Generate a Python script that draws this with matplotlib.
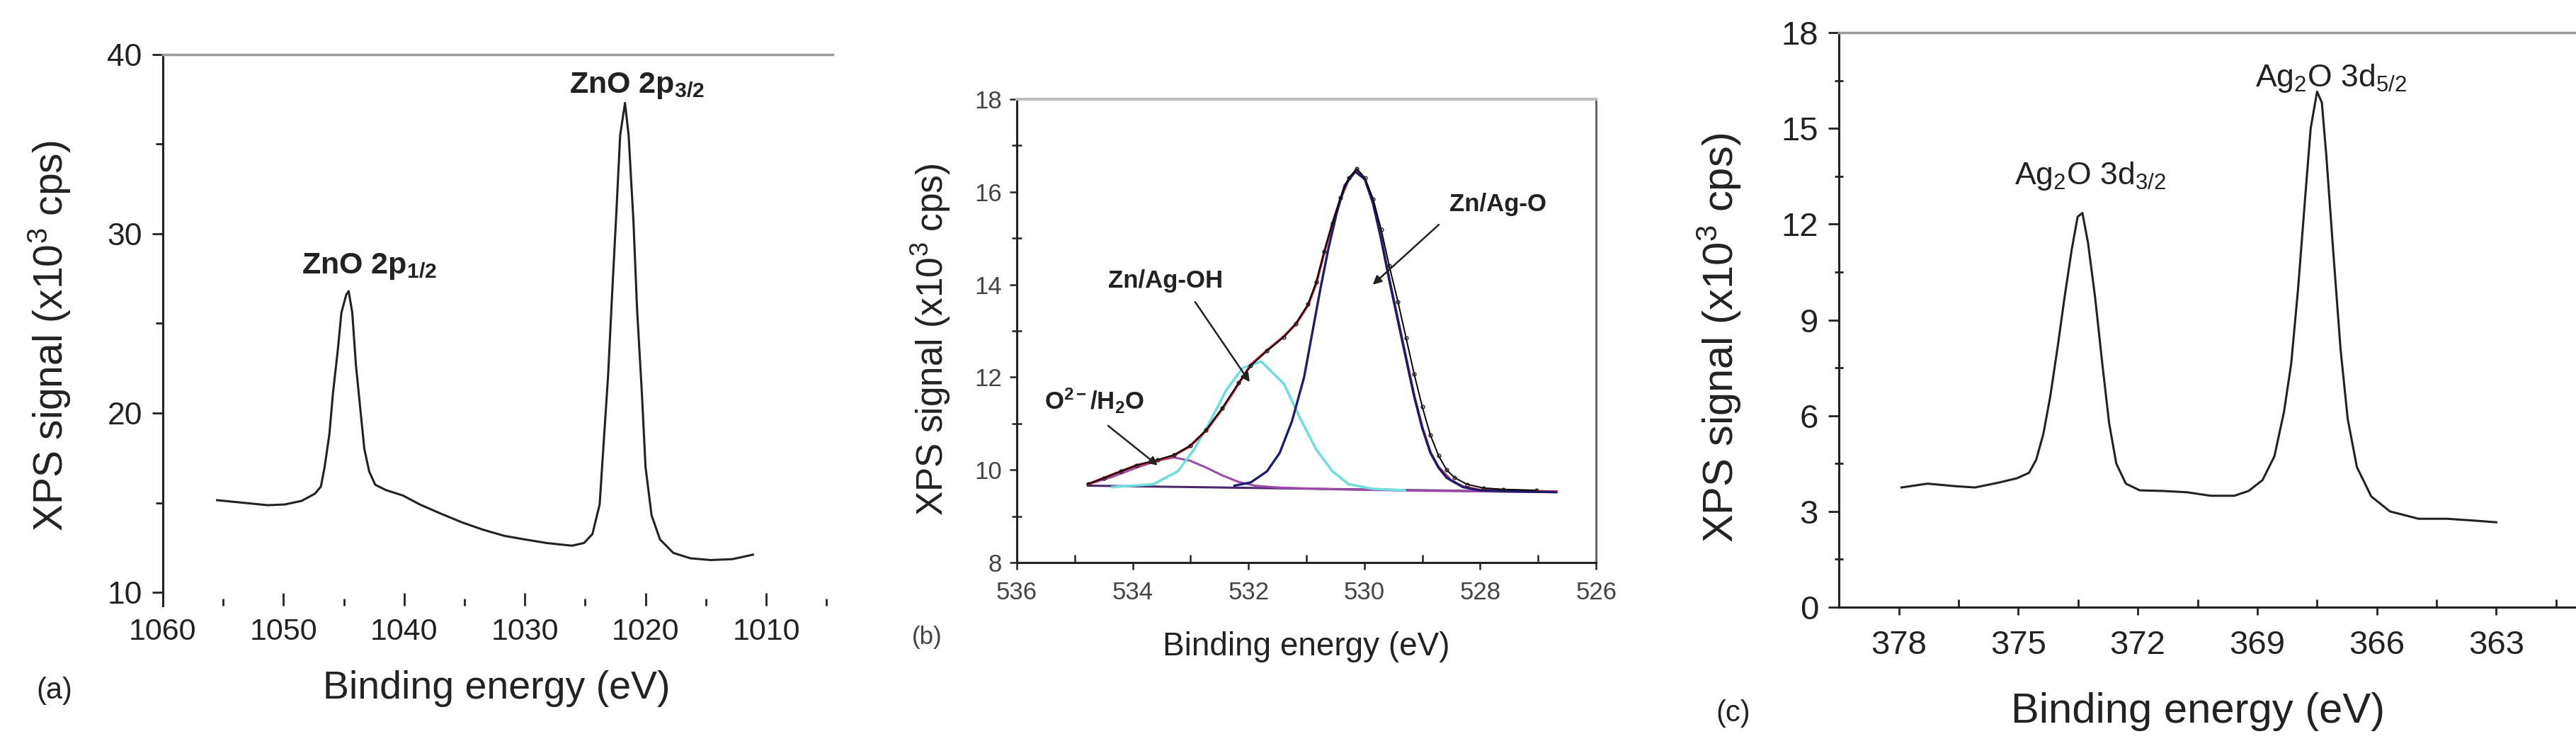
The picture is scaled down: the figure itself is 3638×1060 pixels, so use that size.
import matplotlib
matplotlib.use('Agg')
import matplotlib.pyplot as plt
from matplotlib.ticker import MultipleLocator, FixedLocator

plt.rcParams['font.family'] = ['Liberation Sans', 'DejaVu Sans']
plt.rcParams['mathtext.fontset'] = 'custom'
plt.rcParams['mathtext.rm'] = 'Liberation Sans'
plt.rcParams['mathtext.it'] = 'Liberation Sans:italic'
plt.rcParams['mathtext.bf'] = 'Liberation Sans:bold'
plt.rcParams['mathtext.default'] = 'regular'

# (a) Zn 2p region
zn_energy = [1055.5, 1053.4, 1051.3, 1049.9, 1048.5, 1047.4, 1046.9, 1046.6, 1046.2, 1045.9,
             1045.5, 1045.2, 1044.8, 1044.6, 1044.3, 1044.0, 1043.6, 1043.3, 1042.9, 1042.4,
             1041.5, 1040.1, 1038.7, 1037.0, 1035.2, 1033.5, 1031.7, 1030.0, 1028.2, 1026.1,
             1025.1, 1024.4, 1023.8, 1023.5, 1023.1, 1022.8, 1022.4, 1022.1, 1021.7, 1021.4,
             1021.0, 1020.7, 1020.3, 1020.0, 1019.5, 1018.8, 1017.7, 1016.3, 1014.6, 1012.8,
             1011.1]
zn_signal = [15.14, 15.0, 14.86, 14.9, 15.1, 15.5, 15.9, 16.95, 18.8, 21.1,
             23.5, 25.6, 26.6, 26.8, 25.6, 22.7, 20.0, 18.0, 16.75, 16.0,
             15.7, 15.4, 14.9, 14.4, 13.9, 13.5, 13.15, 12.95, 12.75, 12.6,
             12.75, 13.25, 14.9, 18.0, 22.1, 26.2, 31.4, 35.5, 37.3, 35.5,
             30.7, 25.8, 21.1, 17.0, 14.3, 12.95, 12.2, 11.9, 11.8, 11.85,
             12.1]
zn_yticks = [10, 20, 30, 40]
zn_peaks = ['ZnO 2p$_{1/2}$', 'ZnO 2p$_{3/2}$']
zn_peak_pos = [(1042.9, 28.2), (1020.7, 38.25)]

# (b) O 1s region, measured data and fitted components
o_energy = [534.77, 534.5, 534.2, 533.93, 533.57, 533.29, 533.01, 532.73, 532.45, 532.17,
            531.96, 531.68, 531.39, 531.18, 530.97, 530.83, 530.69, 530.55, 530.41, 530.27,
            530.13, 529.99, 529.85, 529.71, 529.57, 529.42, 529.28, 529.14, 529.0, 528.86,
            528.72, 528.58, 528.44, 528.23, 527.95, 527.6, 527.03]
o_signal = [9.70, 9.82, 9.97, 10.10, 10.22, 10.32, 10.52, 10.86, 11.34, 11.88,
            12.25, 12.57, 12.87, 13.16, 13.58, 14.05, 14.72, 15.33, 15.88, 16.30,
            16.50, 16.30, 15.85, 15.19, 14.40, 13.63, 12.85, 12.07, 11.36, 10.75,
            10.31, 10.00, 9.83, 9.69, 9.61, 9.58, 9.56]

o_fit_energy = [534.77, 534.35, 533.93, 533.57, 533.29, 533.01, 532.73, 532.45, 532.17, 531.96,
                531.68, 531.39, 531.18, 530.97, 530.83, 530.69, 530.55, 530.41, 530.27, 530.13,
                529.99, 529.85, 529.71, 529.57, 529.42, 529.28, 529.14, 529.0, 528.86, 528.72,
                528.51, 528.30, 528.02, 527.60, 527.03, 526.68]
o_fit = [9.69, 9.90, 10.10, 10.20, 10.31, 10.51, 10.85, 11.32, 11.86, 12.27,
         12.58, 12.88, 13.15, 13.56, 14.03, 14.71, 15.32, 15.86, 16.27, 16.47,
         16.27, 15.78, 15.00, 14.12, 13.24, 12.42, 11.60, 10.92, 10.38, 10.06,
         9.78, 9.64, 9.57, 9.55, 9.54, 9.53]

o_zno_energy = [532.24, 531.96, 531.68, 531.46, 531.25, 531.04, 530.90, 530.76, 530.62, 530.48,
                530.34, 530.16, 529.99, 529.85, 529.71, 529.57, 529.42, 529.28, 529.14, 529.00,
                528.86, 528.72, 528.58, 528.30, 528.02, 527.60, 526.70]
o_zno = [9.66, 9.73, 9.97, 10.37, 11.05, 12.00, 12.95, 13.90, 14.78, 15.53,
         16.14, 16.44, 16.27, 15.75, 14.98, 14.10, 13.22, 12.40, 11.59, 10.90,
         10.37, 10.05, 9.83, 9.63, 9.56, 9.54, 9.52]

o_oh_energy = [534.35, 533.64, 533.22, 532.94, 532.66, 532.38, 532.10, 531.78, 531.39, 531.11,
               530.83, 530.55, 530.27, 529.85, 529.30]
o_oh = [9.63, 9.69, 9.97, 10.44, 11.05, 11.73, 12.20, 12.34, 11.86, 11.12,
        10.44, 9.97, 9.69, 9.59, 9.56]

o_h2o_energy = [534.77, 534.35, 533.93, 533.57, 533.29, 533.01, 532.73, 532.45, 532.17, 531.89,
                531.50, 530.50, 529.00, 527.50, 526.68]
o_h2o = [9.69, 9.85, 10.05, 10.20, 10.27, 10.20, 10.05, 9.88, 9.74, 9.66,
         9.62, 9.58, 9.55, 9.53, 9.52]

o_base_energy = [534.77, 526.68]
o_base = [9.66, 9.52]

o_labels = ['Zn/Ag-O', 'Zn/Ag-OH', 'O$^{2-}$/H$_2$O']
o_label_pos = [(527.70, 15.73), (533.43, 14.08), (534.66, 11.49)]
o_arrow_from = [(528.69, 15.32), (532.94, 13.66), (534.45, 10.98)]
o_arrow_to = [(529.88, 13.97), (531.96, 11.86), (533.54, 10.07)]

# (c) Ag 3d region
ag_energy = [377.93, 377.28, 376.57, 376.09, 375.5, 375.03, 374.73, 374.55, 374.37, 374.2,
             374.02, 373.84, 373.66, 373.51, 373.39, 373.25, 373.07, 372.89, 372.72, 372.54,
             372.3, 371.95, 371.35, 370.76, 370.17, 369.58, 369.22, 368.87, 368.57, 368.33,
             368.15, 367.98, 367.8, 367.66, 367.5, 367.38, 367.27, 367.09, 366.91, 366.73,
             366.5, 366.14, 365.67, 364.95, 364.24, 363.53, 363.0]
ag_signal = [3.75, 3.87, 3.79, 3.75, 3.90, 4.04, 4.21, 4.62, 5.43, 6.58,
             8.08, 9.69, 11.19, 12.23, 12.35, 11.42, 9.69, 7.62, 5.77, 4.50,
             3.87, 3.66, 3.64, 3.60, 3.49, 3.49, 3.64, 3.98, 4.73, 6.12,
             7.62, 9.92, 12.81, 15.0, 16.15, 15.81, 14.19, 11.08, 8.08, 5.89,
             4.39, 3.47, 3.0, 2.77, 2.77, 2.71, 2.66]
ag_peaks = ['Ag$_2$O 3d$_{3/2}$', 'Ag$_2$O 3d$_{5/2}$']
ag_peak_pos = [(373.19, 13.5), (367.15, 16.56)]

ylab = 'XPS signal (x10$^3$ cps)'
xlab = 'Binding energy (eV)'
ink = '#222222'

fig = plt.figure(figsize=(36.38, 10.6), dpi=100)

#----- panel (a)
ax = fig.add_axes([0.0632, 0.1934, 0.26, 0.734])
ax.plot(zn_energy, zn_signal, color=ink, lw=2.2)
ax.set_xlim(1060, 1004.5)
ax.set_ylim(9.25, 40)
ax.xaxis.set_major_locator(MultipleLocator(10))
ax.xaxis.set_minor_locator(MultipleLocator(5))
ax.yaxis.set_major_locator(FixedLocator(zn_yticks))
ax.yaxis.set_minor_locator(MultipleLocator(5))
ax.spines['right'].set_visible(False)
ax.spines['bottom'].set_visible(False)
ax.spines['left'].set_color(ink)
ax.spines['left'].set_linewidth(2.2)
ax.spines['top'].set_color('#9a9a9a')
ax.spines['top'].set_linewidth(2.5)
ax.tick_params(axis='y', which='both', direction='out', width=2, color=ink,
               labelsize=32, labelcolor=ink, pad=10)
ax.tick_params(axis='y', which='major', length=11)
ax.tick_params(axis='y', which='minor', length=7)
ax.tick_params(axis='x', which='both', direction='in', width=2, color=ink,
               labelsize=31, labelcolor=ink, pad=12)
ax.tick_params(axis='x', which='major', length=13)
ax.tick_params(axis='x', which='minor', length=7)
for lab, (x, y) in zip(zn_peaks, zn_peak_pos):
    ax.text(x, y, lab, fontsize=31, fontweight='bold', color=ink, ha='center', va='center')
ax.set_ylabel(ylab, fontsize=41, color=ink)
ax.yaxis.set_label_coords(-0.134, 0.49)
ax.set_xlabel(xlab, fontsize=40, color=ink)
ax.xaxis.set_label_coords(0.498, -0.117)
fig.text(0.0212, 0.080, '(a)', fontsize=30, color=ink, ha='center', va='center')

#----- panel (b)
ax = fig.add_axes([0.3947, 0.2509, 0.2249, 0.6170])
ax.plot(o_base_energy, o_base, color='#4a2a6a', lw=2.2)
ax.plot(o_h2o_energy, o_h2o, color='#a04aa8', lw=2.2)
ax.plot(o_oh_energy, o_oh, color='#70dede', lw=2.6)
ax.plot(o_fit_energy, o_fit, color='#d02a3a', lw=2.6)
ax.plot(o_zno_energy, o_zno, color='#1c1c70', lw=2.4)
ax.plot(o_energy, o_signal, color='black', lw=1.4, marker='o', ms=3.5,
        mfc='none', mec='#222222', mew=1.0)
for lab, pos, p0, p1 in zip(o_labels, o_label_pos, o_arrow_from, o_arrow_to):
    ax.text(pos[0], pos[1], lab, fontsize=25, fontweight='bold', color=ink,
            ha='center', va='center')
    ax.annotate('', xy=p1, xytext=p0,
                arrowprops=dict(arrowstyle='-|>', color=ink, lw=1.8, mutation_scale=18))
ax.set_xlim(536, 526)
ax.set_ylim(8, 18)
ax.xaxis.set_major_locator(MultipleLocator(2))
ax.xaxis.set_minor_locator(MultipleLocator(1))
ax.yaxis.set_major_locator(MultipleLocator(2))
ax.yaxis.set_minor_locator(MultipleLocator(1))
for side in ['left', 'bottom']:
    ax.spines[side].set_color(ink)
    ax.spines[side].set_linewidth(2.2)
ax.spines['right'].set_color('#666666')
ax.spines['right'].set_linewidth(2.2)
ax.spines['top'].set_color('#bdbdbd')
ax.spines['top'].set_linewidth(3)
ax.tick_params(which='both', width=1.8, color=ink, labelsize=25, labelcolor='#444444')
ax.tick_params(which='major', direction='out', length=7)
ax.tick_params(axis='y', which='major', pad=8)
ax.tick_params(axis='x', which='major', pad=12)
ax.tick_params(axis='y', which='minor', direction='inout', length=10)
ax.tick_params(axis='x', which='minor', direction='in', length=8)
ax.set_ylabel(ylab, fontsize=37, color=ink)
ax.yaxis.set_label_coords(-0.111, 0.481)
ax.set_xlabel(xlab, fontsize=33, color=ink)
ax.xaxis.set_label_coords(0.5, -0.148)
fig.text(0.3598, 0.151, '(b)', fontsize=25, color='#444444', ha='center', va='center')

#----- panel (c)
ax = fig.add_axes([0.7139, 0.1915, 0.2861, 0.7651])
ax.plot(ag_energy, ag_signal, color=ink, lw=2.2)
ax.set_xlim(379.5, 361.0)
ax.set_ylim(0, 18)
ax.xaxis.set_major_locator(MultipleLocator(3))
ax.xaxis.set_minor_locator(MultipleLocator(1.5))
ax.yaxis.set_major_locator(MultipleLocator(3))
ax.yaxis.set_minor_locator(MultipleLocator(1.5))
ax.spines['right'].set_visible(False)
for side in ['left', 'bottom']:
    ax.spines[side].set_color(ink)
    ax.spines[side].set_linewidth(2.2)
ax.spines['top'].set_color('#9a9a9a')
ax.spines['top'].set_linewidth(2.5)
ax.tick_params(which='both', width=2, color=ink, labelsize=34, labelcolor=ink)
ax.tick_params(axis='y', which='major', direction='out', length=11, pad=10)
ax.tick_params(axis='y', which='minor', direction='inout', length=9)
ax.tick_params(axis='x', which='major', direction='out', length=8, pad=15)
ax.tick_params(axis='x', which='minor', direction='in', length=8)
for lab, (x, y) in zip(ag_peaks, ag_peak_pos):
    ax.text(x, y, lab, fontsize=32, color=ink, ha='center', va='center')
ax.set_ylabel(ylab, fontsize=43, color=ink)
ax.yaxis.set_label_coords(-0.13, 0.469)
ax.set_xlabel(xlab, fontsize=43, color=ink)
ax.xaxis.set_label_coords(0.487, -0.148)
fig.text(0.6727, 0.05, '(c)', fontsize=30, color=ink, ha='center', va='center')

fig.savefig('out.png', dpi=100)
